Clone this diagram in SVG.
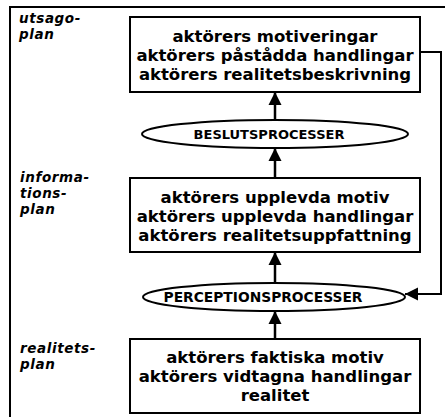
<svg xmlns="http://www.w3.org/2000/svg" width="445" height="417" viewBox="0 0 445 417">
<style>
.box{fill:#fff;stroke:#000;stroke-width:2}
.ell{fill:#fff;stroke:#000;stroke-width:2}
.t{font-family:"DejaVu Sans","Liberation Sans",sans-serif;font-weight:bold;font-size:16.5px;fill:#000;text-anchor:middle}
.e{font-family:"DejaVu Sans","Liberation Sans",sans-serif;font-weight:bold;fill:#000;text-anchor:middle}
.lab{font-family:"DejaVu Sans","Liberation Sans",sans-serif;font-weight:bold;font-style:italic;font-size:13.5px;letter-spacing:0.6px;fill:#000}
.c{fill:none;stroke:#000;stroke-width:2.5}
.f{fill:none;stroke:#000;stroke-width:2}
</style>
<defs>
<marker id="ah" markerUnits="userSpaceOnUse" markerWidth="14" markerHeight="14" viewBox="0 0 14 14" refX="13" refY="7" orient="auto">
<path d="M0,0.5 L13,7 L0,13.5 Z" fill="#000"/>
</marker>
</defs>
<g id="frame">
<path class="f" d="M10,417 L10,7 L445,7"/>
</g>
<g id="labels">
<text class="lab" x="19" y="23">utsago-</text>
<text class="lab" x="19" y="39">plan</text>
<text class="lab" x="20" y="182">informa-</text>
<text class="lab" x="20" y="198">tions-</text>
<text class="lab" x="20" y="214">plan</text>
<text class="lab" x="20" y="353">realitets-</text>
<text class="lab" x="20" y="369">plan</text>
</g>
<g id="connectors">
<line class="c" x1="275" y1="120" x2="275" y2="92" marker-end="url(#ah)"/>
<line class="c" x1="275" y1="148" x2="275" y2="178" marker-end="url(#ah)" transform="rotate(180 275 163)"/>
<line class="c" x1="275" y1="283" x2="275" y2="252" marker-end="url(#ah)"/>
<line class="c" x1="275" y1="311" x2="275" y2="339" marker-end="url(#ah)" transform="rotate(180 275 325)"/>
<path class="f" d="M420,52 L441,52 L441,294 L405,294" marker-end="url(#ah)"/>
</g>
<g id="utsago">
<rect class="box" x="130" y="17" width="290" height="75"/>
<text class="t" x="275" y="42">aktörers motiveringar</text>
<text class="t" x="275" y="61">aktörers påstådda handlingar</text>
<text class="t" x="275" y="80">aktörers realitetsbeskrivning</text>
</g>
<g id="beslut">
<ellipse class="ell" cx="275" cy="134" rx="133" ry="14"/>
<text class="e" x="269" y="139" font-size="13">BESLUTSPROCESSER</text>
</g>
<g id="information">
<rect class="box" x="130" y="178" width="290" height="74"/>
<text class="t" x="275" y="203">aktörers upplevda motiv</text>
<text class="t" x="275" y="222">aktörers upplevda handlingar</text>
<text class="t" x="275" y="241">aktörers realitetsuppfattning</text>
</g>
<g id="perception">
<ellipse class="ell" cx="274" cy="297" rx="131" ry="14"/>
<text class="e" x="263" y="302" font-size="13.8">PERCEPTIONSPROCESSER</text>
</g>
<g id="realitet">
<rect class="box" x="130" y="339" width="290" height="74"/>
<text class="t" x="275" y="363">aktörers faktiska motiv</text>
<text class="t" x="275" y="382">aktörers vidtagna handlingar</text>
<text class="t" x="275" y="401">realitet</text>
</g>
</svg>
